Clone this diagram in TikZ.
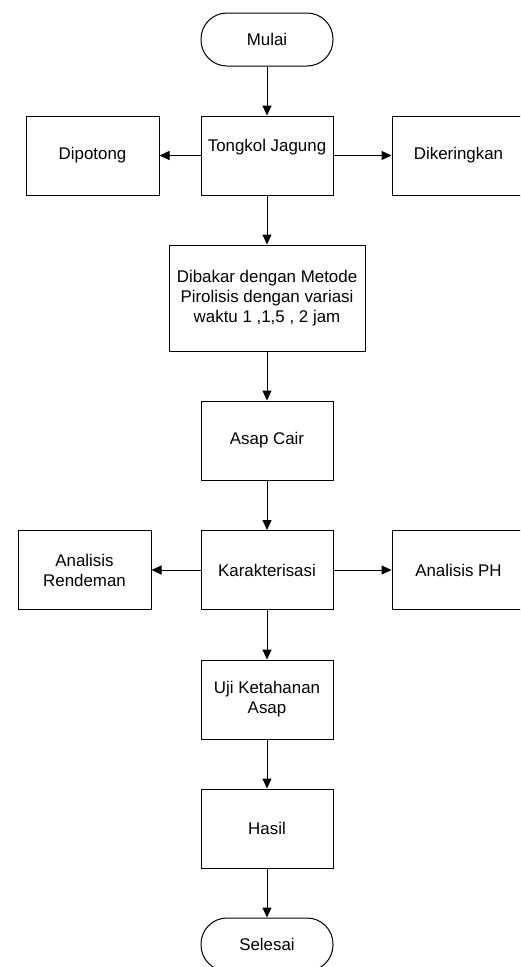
\documentclass[tikz,border=0pt]{standalone}
\usepackage{fontspec}
\setmainfont{Liberation Sans}
\usepackage{tikz}
\usetikzlibrary{arrows.meta}

\tikzset{
    proses/.style={draw, line width=1pt, minimum width=132pt, minimum height=79pt, align=center, inner sep=0pt},
    terminal/.style={draw, line width=1pt, rounded corners=26pt, minimum width=132pt, minimum height=53pt},
    panah/.style={line width=1pt, -{Triangle[length=10pt,width=9pt]}}
}

\begin{document}
\begin{tikzpicture}[x=1pt, y=-1pt, font=\fontsize{16.9}{20}\selectfont]
    %% Background
    \useasboundingbox (0,0) rectangle (520,967);
    \clip (0,0) rectangle (520,967);
    %% Alur utama
    \node[terminal] (mulai) at (267,39.5) {Mulai};
    \node[proses, label={[yshift=8pt]center:Tongkol Jagung}] (tongkol) at (267,155.5) {};
    \node[proses, minimum width=196pt, minimum height=106pt] (dibakar) at (267,298)
        {Dibakar dengan Metode\\Pirolisis dengan variasi\\waktu 1 ,1,5 , 2 jam};
    \node[proses] (asap) at (267,440.5) {Asap Cair};
    \node[proses] (karakter) at (267,570) {Karakterisasi};
    \node[proses] (uji) at (267,699.5) {Uji Ketahanan\\Asap};
    \node[proses] (hasil) at (267,828.5) {Hasil};
    \node[terminal] (selesai) at (267,944.5) {Selesai};
    %% Cabang samping
    \node[proses, minimum width=133pt] (dipotong) at (92.5,155.5) {Dipotong};
    \node[proses, minimum width=133pt] (dikering) at (458.5,155.5) {Dikeringkan};
    \node[proses, minimum width=133pt] (rendeman) at (84.5,570) {Analisis\\Rendeman};
    \node[proses, minimum width=133pt] (ph) at (458.5,570) {Analisis PH};
    %% Panah
    \draw[panah] (mulai) -- (tongkol);
    \draw[panah] (tongkol) -- (dipotong);
    \draw[panah] (tongkol) -- (dikering);
    \draw[panah] (tongkol) -- (dibakar);
    \draw[panah] (dibakar) -- (asap);
    \draw[panah] (asap) -- (karakter);
    \draw[panah] (karakter) -- (rendeman);
    \draw[panah] (karakter) -- (ph);
    \draw[panah] (karakter) -- (uji);
    \draw[panah] (uji) -- (hasil);
    \draw[panah] (hasil) -- (selesai);
\end{tikzpicture}
\end{document}
